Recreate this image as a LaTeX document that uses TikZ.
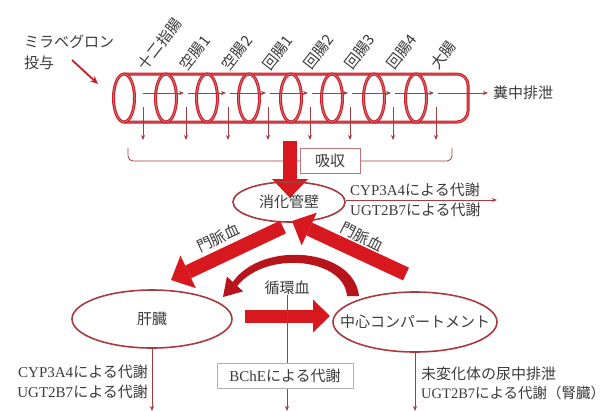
\documentclass[tikz,border=0pt]{standalone}
\usepackage{fontspec}
\setmainfont{Liberation Serif}
\newfontfamily\jp{Noto Sans CJK JP}
\usetikzlibrary{arrows.meta,shapes.geometric}
\definecolor{tube}{HTML}{C8202A}
\definecolor{bigred}{HTML}{D7191F}
\definecolor{darkred}{HTML}{A83A40}
\definecolor{txt}{HTML}{3C3C3C}
\definecolor{curvred}{HTML}{B8141C}
\begin{document}
\begin{tikzpicture}[x=1pt,y=-1pt,
  lbl/.style={text=txt, font=\jp\fontsize{15}{17}\selectfont, inner sep=0pt},
  latin/.style={text=txt, font=\fontsize{15}{17}\selectfont, inner sep=0pt},
  seglbl/.style={lbl, rotate=52, anchor=west},
  conn/.style={draw=darkred, line width=0.8pt, -{Stealth[length=5pt,width=4pt]}},
  tubeline/.style={draw=tube, line width=1.1pt, double=tube!65, double distance=0.8pt},
  organ/.style={ellipse, draw=darkred, line width=1.6pt, inner sep=0pt},
  bigarrow/.style={draw=bigred, line width=14pt, -{Triangle[length=19pt,width=36pt,line width=0pt]}},
  boxed/.style={draw=#1, line width=0.7pt, fill=white, minimum height=25pt, inner sep=0pt}
]
\fill[white] (0,0) rectangle (612,410);
\useasboundingbox (0,0) rectangle (612,410);

% --- tube ---
\draw[tubeline, rounded corners=11pt] (124,74) -- (468,74) -- (468,122) -- (124,122);
\foreach \x in {124,166,207,249,291,332,374,416} {
  \draw[tubeline] (\x,98) ellipse [x radius=10.5, y radius=24];
}
% flow inside tube
\foreach \a/\b [count=\i] in {143/184,188/226,230/266,270/308,312/348,352/391,395/434,438/488} {
  \coordinate (fa\i) at (\a,93);
  \coordinate (fb\i) at (\b,93);
  \draw[conn] (fa\i) -- (fb\i);
}
\node[lbl, anchor=west] (feces) at (493,93) {糞中排泄};
% drops
\foreach \x [count=\i] in {143,186,228,268,310,350,393,436} {
  \coordinate (d\i) at (\x,107);
  \coordinate (e\i) at (\x,140);
  \draw[conn] (d\i) -- (e\i);
}
% segment labels
\node[seglbl] (s1) at (141,68) {十二指腸};
\node[seglbl] (s2) at (183,68) {空腸1};
\node[seglbl] (s3) at (225,68) {空腸2};
\node[seglbl] (s4) at (266,68) {回腸1};
\node[seglbl] (s5) at (307,67) {回腸2};
\node[seglbl] (s6) at (348,67) {回腸3};
\node[seglbl] (s7) at (390,67) {回腸4};
\node[seglbl] (s8) at (434,67) {大腸};

% dosing
\node[lbl, anchor=west] (mira) at (24,42) {ミラベグロン};
\node[lbl, anchor=west] (toyo) at (24,63) {投与};
\coordinate (dosA) at (72,60);
\coordinate (dosB) at (98,84);
\draw[draw=tube, line width=1.8pt, -{Stealth[length=8pt,width=7pt]}] (dosA) -- (dosB);

% bracket + absorption
\draw[draw=darkred, line width=0.8pt, rounded corners=5pt] (128,148) -- (128,161) -- (452,161) -- (452,148);
\coordinate (absA) at (290,141);
\coordinate (absB) at (290,198);
\draw[bigarrow] (absA) -- (absB);
\node[boxed=darkred!70, minimum width=60pt, lbl] (abs) at (330,161) {吸収};

% gut wall
\node[organ, minimum width=112pt, minimum height=40pt] (gut) at (289,202) {};
\node[lbl] (gutl) at (gut) {消化管壁};
\coordinate (gutout) at (497,200);
\draw[conn] (gut.east |- gutout) -- (gutout);
\node[latin, anchor=west] (g1) at (350,190) {CYP3A4{\jp による代謝}};
\node[latin, anchor=west] (g2) at (350,210) {UGT2B7{\jp による代謝}};

% liver and central
\node[organ, minimum width=160pt, minimum height=58pt] (liver) at (152,319) {};
\node[lbl] (liverl) at (liver) {肝臓};
\node[organ, minimum width=164pt, minimum height=60pt] (central) at (415,322) {};
\node[lbl] (centrall) at (central) {中心コンパートメント};

% portal vein arrows
\coordinate (pvA) at (283,227);
\coordinate (pvB) at (171,280);
\draw[bigarrow] (pvA) -- (pvB);
\node[lbl, rotate=25] (pv1) at (218,238) {門脈血};
\coordinate (pwA) at (406,274);
\coordinate (pwB) at (292,221);
\draw[bigarrow] (pwA) -- (pwB);
\node[lbl, rotate=-27] (pv2) at (362,237) {門脈血};

% circulation curved arrow
\fill[curvred] (359,296) .. controls (354,248) and (262,240) .. (232.8,282)
  -- (226.9,276.6) -- (223,297) -- (243.1,291.4) -- (237.2,286)
  .. controls (266,250) and (344,258) .. (347,296) -- cycle;
\node[lbl] (circ) at (287,288) {循環血};

% liver -> central
\coordinate (lcA) at (245,316);
\coordinate (lcB) at (330,316);
\draw[bigred, line width=13pt, -{Triangle[length=17pt,width=33pt,line width=0pt]}] (lcA) -- (lcB);

% bottom lines
\coordinate (liverEnd) at (152,411);
\draw[conn] (liver.south) -- (liverEnd);
\coordinate (circEnd) at (287,411);
\draw[conn] (circ.south) -- (circEnd);
\coordinate (centralEnd) at (415,411);
\draw[conn] (central.south) -- (centralEnd);
\node[boxed=gray!60, minimum width=136pt, latin] (bche) at (285,376) {BChE{\jp による代謝}};

\node[latin, anchor=east] (l1) at (148,372) {CYP3A4{\jp による代謝}};
\node[latin, anchor=east] (l2) at (148,392) {UGT2B7{\jp による代謝}};
\node[lbl, anchor=west] (r1) at (421,374) {未変化体の尿中排泄};
\node[latin, anchor=west, font=\fontsize{14.5}{17}\selectfont] (r2) at (421,393) {UGT2B7{\jp による代謝（腎臓）}};
\end{tikzpicture}
\end{document}
